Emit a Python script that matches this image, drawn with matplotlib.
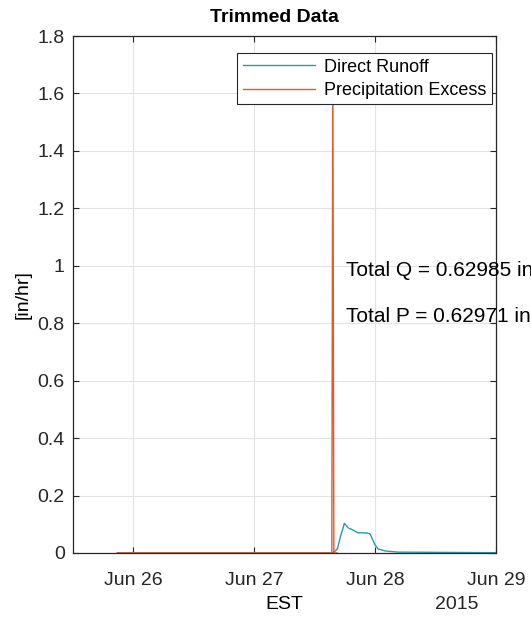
import datetime as dt
import numpy as np
import matplotlib
matplotlib.use("Agg")
from matplotlib import pyplot as plt
import matplotlib.dates as mdates

plt.rcParams['font.family'] = ['Liberation Sans', 'DejaVu Sans']

# hours relative to Jun 26 2015 00:00 EST
runoffHours = [-3.2, 39.5, 39.9, 40.5, 41.1, 41.9, 42.7, 43.6, 44.6, 46.3, 47.0, 48.0, 48.6, 50.0, 52.6, 72.0]
runoffValues = [0, 0, 0.004, 0.014, 0.056, 0.103, 0.087, 0.080, 0.070, 0.070, 0.066, 0.028, 0.014, 0.007, 0.003, 0.001]

precipHours = [-3.2, 39.4, 39.6, 39.8, 40.5]
precipValues = [0, 0, 1.72, 0, 0]

totalQ = 0.62985
totalP = 0.62971

start = dt.datetime(2015, 6, 26)
tRunoff = [start + dt.timedelta(hours=h) for h in runoffHours]
tPrecip = [start + dt.timedelta(hours=h) for h in precipHours]

fig = plt.figure(figsize=(5.31, 6.18), dpi=100)
ax = fig.add_axes([0.1375, 0.1052, 0.7965, 0.8365])

ax.plot(tRunoff, runoffValues, color='#2a9aa8', linewidth=1.0, label='Direct Runoff')
ax.plot(tPrecip, precipValues, color='#e05a2e', linewidth=1.0, label='Precipitation Excess')

ax.set_xlim(dt.datetime(2015, 6, 25, 12), dt.datetime(2015, 6, 29))
ax.set_ylim(0, 1.8)
ax.set_yticks(np.arange(0, 1.81, 0.2))
ax.set_yticklabels(['0', '0.2', '0.4', '0.6', '0.8', '1', '1.2', '1.4', '1.6', '1.8'])
ax.xaxis.set_major_locator(mdates.DayLocator())
ax.xaxis.set_major_formatter(mdates.DateFormatter('Jun %d'))

ax.grid(True, color='#e3e3e3', linewidth=0.8)
ax.set_axisbelow(True)
for s in ax.spines.values():
    s.set_color('#262626')
    s.set_linewidth(0.9)
ax.tick_params(direction='in', length=4, width=0.8, top=True, right=True,
               labelsize=14, colors='#262626', pad=6)
ax.tick_params(axis='x', pad=14)

ax.set_title('Trimmed Data', fontsize=14, fontweight='bold', pad=10, x=0.476)
ax.set_ylabel('[in/hr]', fontsize=14, labelpad=4)
ax.set_xlabel('EST', fontsize=14, labelpad=5)
fig.text(0.861, 0.0215, '2015', fontsize=14, ha='center', va='center', color='#262626')

tx = dt.datetime(2015, 6, 27, 18, 15)
ax.text(tx, 0.985, 'Total Q = %.5f in' % totalQ, fontsize=15, va='center', clip_on=False)
ax.text(tx, 0.825, 'Total P = %.5f in' % totalP, fontsize=15, va='center', clip_on=False)

leg = ax.legend(loc='upper right', bbox_to_anchor=(0.99, 0.967), borderaxespad=0,
                fontsize=13, handlelength=4.0, fancybox=False, framealpha=1,
                edgecolor='#262626', borderpad=0.3, labelspacing=0.35, handletextpad=0.5)
leg.get_frame().set_linewidth(0.8)

fig.savefig('out.png', dpi=100)
